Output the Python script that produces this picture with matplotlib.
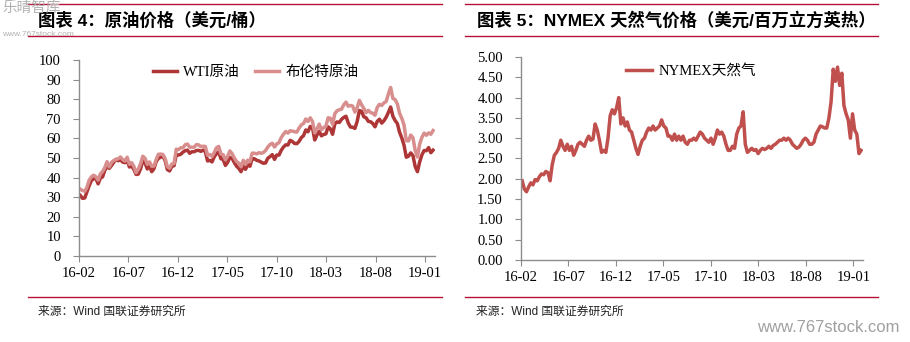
import numpy as np
import pandas as pd
import matplotlib
matplotlib.use("Agg")
import matplotlib.pyplot as plt
from matplotlib.lines import Line2D

plt.rcParams["font.family"] = ["Liberation Serif", "Noto Sans CJK SC"]

# ---- 数据（周度，读图估计） ----
wti = [
    30.9, 29.4, 29.6, 32.8, 35.9, 38.5, 39.4, 39.5, 36.8, 39.7, 40.4, 43.7, 45.9,
    44.7, 46.2, 47.8, 49.3, 48.6, 49.1, 47.9, 47.6, 49.0, 45.4, 45.9, 44.2, 41.6,
    41.8, 44.5, 48.5, 47.6, 44.4, 45.9, 43.0, 44.5, 48.2, 49.8, 50.4, 50.9, 48.7,
    44.1, 43.4, 45.7, 46.1, 51.7, 51.5, 51.9, 53.0, 53.7,
    54.0, 52.4, 53.2, 53.2, 53.8, 53.9, 53.4, 54.0, 53.3, 48.5, 48.8, 48.0, 50.6,
    52.2, 53.2, 49.6, 49.3, 46.2, 47.8, 50.3, 49.8, 47.7, 45.8, 44.7, 43.0, 46.0,
    44.2, 46.5, 45.8, 49.7, 49.6, 48.8, 48.5, 47.9, 47.3, 47.5, 49.9, 50.7, 51.7,
    49.3, 51.5, 51.5, 53.9, 55.6, 56.7, 56.6, 59.0, 58.4, 57.4, 57.3, 58.5, 60.4,
    61.4, 64.3, 63.4, 66.1, 65.5, 59.2, 61.7, 63.6, 61.3, 62.0, 62.3, 65.9, 64.9,
    62.1, 67.4, 68.4, 68.1, 69.7, 70.7, 71.3, 67.9, 65.8, 65.7, 65.1, 68.6, 74.2,
    73.8, 71.0, 70.5, 68.7, 68.5, 67.6, 65.9, 68.7, 69.8, 67.8, 69.0, 70.8, 73.3,
    76.0, 71.3, 69.1, 67.6, 63.1, 60.2, 56.5, 50.4, 50.9, 52.6, 51.2, 45.6, 43.0,
    48.0, 51.6, 53.8, 53.7, 55.3, 52.7, 54.0,
]
brent = [
    34.1, 33.4, 33.0, 35.1, 38.7, 40.4, 41.2, 40.4, 38.7, 41.9, 43.1, 45.1, 48.1,
    45.4, 47.8, 48.7, 49.3, 49.6, 50.5, 49.2, 48.4, 50.4, 46.8, 47.6, 45.7, 42.5,
    44.3, 47.0, 50.9, 49.9, 46.8, 48.0, 45.8, 45.9, 49.2, 51.9, 52.0, 51.8, 49.7,
    45.6, 44.8, 46.9, 47.2, 54.5, 54.3, 55.2, 55.2, 56.8,
    57.1, 55.5, 55.5, 55.5, 56.8, 56.7, 55.8, 56.0, 55.9, 51.4, 51.8, 50.8, 52.8,
    55.2, 55.9, 52.0, 51.7, 49.1, 50.8, 53.6, 52.2, 50.0, 48.2, 47.4, 45.5, 48.8,
    46.7, 48.9, 48.1, 52.5, 52.4, 52.1, 52.7, 52.4, 52.8, 53.8, 55.6, 56.9, 57.5,
    55.6, 57.2, 57.8, 60.4, 62.1, 63.5, 62.7, 63.9, 63.7, 63.4, 63.2, 65.3, 66.9,
    67.6, 69.9, 68.6, 70.5, 68.6, 62.8, 64.8, 67.3, 64.4, 65.5, 66.2, 70.5, 70.3,
    67.1, 72.6, 74.1, 74.6, 74.9, 77.1, 78.5, 76.4, 76.8, 76.5, 73.4, 75.6, 79.4,
    77.1, 75.3, 73.1, 74.3, 73.2, 72.8, 71.8, 75.8, 77.4, 76.8, 78.1, 78.8, 82.7,
    86.0, 80.4, 79.8, 77.6, 72.8, 70.2, 66.8, 58.8, 58.7, 61.7, 60.3, 53.8, 50.5,
    57.1, 60.5, 62.7, 61.6, 62.8, 62.1, 64.0,
]
ng = [
    1.95, 1.75, 1.68, 1.80, 1.90, 1.85, 1.98, 1.95, 2.05, 2.12, 2.10, 2.18, 2.15,
    1.95, 2.35, 2.58, 2.65, 2.75, 2.95, 2.80, 2.70, 2.85, 2.70, 2.80, 2.58, 2.70,
    2.85, 2.90, 2.85,
    2.80, 2.95, 3.05, 2.95, 2.98, 3.35, 3.20, 2.95, 2.65, 2.70, 2.65, 3.00, 3.55,
    3.70, 3.60, 3.75, 4.00, 3.35, 3.50, 3.30, 3.40, 3.20, 3.15, 2.95, 2.75, 2.60,
    2.80, 2.95, 3.00, 3.15, 3.25, 3.20, 3.30, 3.20, 3.25, 3.30, 3.45, 3.30, 3.25,
    3.05, 3.05, 2.95, 3.10, 2.95, 3.05, 2.95, 3.05, 2.90, 2.85, 2.95, 2.95, 3.00,
    2.95, 3.05, 3.15, 3.10,
    3.00, 2.95, 2.90, 3.00, 2.85, 3.00, 3.20, 3.10, 3.15, 3.05, 2.85, 2.70, 2.70,
    2.80, 2.75, 3.10, 3.25, 3.30, 3.65, 2.85, 2.65, 2.70, 2.75, 2.70, 2.72, 2.62,
    2.70, 2.75, 2.72, 2.75, 2.80, 2.75, 2.82, 2.85, 2.90, 2.95, 2.95, 3.00, 2.95,
    3.00, 2.95, 2.85, 2.80, 2.75, 2.78, 2.85, 2.95, 3.00, 2.95, 2.85, 2.85, 2.90,
    3.10, 3.20, 3.30, 3.28,
    3.25, 3.25, 3.50, 3.90, 4.70, 4.40, 4.75, 4.30, 4.60, 3.80, 3.60, 3.45, 3.00,
    3.60, 3.20, 3.10, 2.62, 2.70,
]
tick_labels = ["16-02", "16-07", "16-12", "17-05", "17-10", "18-03", "18-08", "19-01"]

start = pd.Timestamp("2016-02-01")
first = pd.Timestamp("2016-02-05")
ticks = [start + pd.Timedelta(days=155 * k) for k in range(len(tick_labels))]
xmax = start + pd.Timedelta(days=1116)

RED = "#B8123A"
GRAY = "#8C8C8C"

fig = plt.figure(figsize=(9.1, 3.42), dpi=100)


def style_axis(ax):
    for s in ["top", "right"]:
        ax.spines[s].set_visible(False)
    for s in ["left", "bottom"]:
        ax.spines[s].set_color(GRAY)
        ax.spines[s].set_linewidth(1.0)
    ax.tick_params(axis="both", direction="out", length=4, width=0.8,
                   color=GRAY, labelsize=10.5, labelcolor="black")
    ax.tick_params(axis="y", pad=9)
    ax.tick_params(axis="x", pad=4)
    ax.set_xticks(ticks)
    ax.set_xticklabels(tick_labels)
    ax.set_xlim(start, xmax)


# ---- 左图：原油 ----
ax1 = fig.add_axes([0.0868, 0.2515, 0.3912, 0.5731])
d_wti = pd.date_range(first, periods=len(wti), freq="7D")
d_brent = pd.date_range(first, periods=len(brent), freq="7D")
ax1.plot(d_wti, wti, color="#AE3636", lw=2.5, label="WTI原油")
ax1.plot(d_brent, brent, color="#D98E8E", lw=2.5, label="布伦特原油")
ax1.set_ylim(0, 100)
ax1.set_yticks(np.arange(0, 101, 10))
style_axis(ax1)
ax1.legend(loc="center", bbox_to_anchor=(0.496, 0.935), ncol=2, frameon=False,
           fontsize=10.5, handlelength=1.7, columnspacing=1.0, handletextpad=0.4)

# ---- 右图：天然气 ----
ax2 = fig.add_axes([0.5725, 0.2398, 0.3758, 0.5936])
d_ng = pd.date_range(first, periods=len(ng), freq="7D")
ax2.plot(d_ng, ng, color="#C0504D", lw=2.5, label="NYMEX天然气")
ax2.set_ylim(0, 5)
ax2.set_yticks(np.arange(0, 5.01, 0.5))
ax2.yaxis.set_major_formatter(matplotlib.ticker.FormatStrFormatter("%.2f"))
style_axis(ax2)
ax2.legend(loc="center", bbox_to_anchor=(0.497, 0.9325), frameon=False,
           fontsize=10.5, handlelength=1.8, handletextpad=0.4)

# ---- 标题栏与分隔线 ----
def hline(x0, x1, y):
    fig.add_artist(Line2D([x0 / 910, x1 / 910], [1 - y / 342, 1 - y / 342],
                          color=RED, lw=1.0, transform=fig.transFigure))


for x0, x1 in [(28, 442), (465, 878)]:
    hline(x0, x1, 3.5)
    hline(x0, x1, 36)
    hline(x0, x1, 297)

title_font = ["Liberation Sans", "Noto Sans CJK SC"]
fig.text(38 / 910, 1 - 20 / 342, "图表 4：原油价格（美元/桶）", family=title_font,
         fontsize=12.5, fontweight="bold", va="center", ha="left")
fig.text(477 / 910, 1 - 20 / 342, "图表 5：NYMEX 天然气价格（美元/百万立方英热）",
         family=title_font, fontsize=12.5, fontweight="bold", va="center", ha="left")

for x0 in [38, 476]:
    fig.text(x0 / 910, 1 - 312 / 342, "来源：Wind 国联证券研究所", family=title_font,
             fontsize=8.5, va="center", ha="left", color="#222222")

# 水印
fig.text(2 / 910, 1 - 8 / 342, "乐晴智库", family=title_font, fontsize=10.5,
         color="#B0B0B0", va="center", ha="left")
fig.text(2 / 910, 1 - 34 / 342, "www.767stock.com", family=title_font, fontsize=6,
         color="#B0B0B0", va="center", ha="left")
fig.text(900 / 910, 1 - 327 / 342, "www.767stock.com", family=title_font, fontsize=12,
         color="#A0A0A0", va="center", ha="right")

fig.savefig("out.png", dpi=100, facecolor="white")
